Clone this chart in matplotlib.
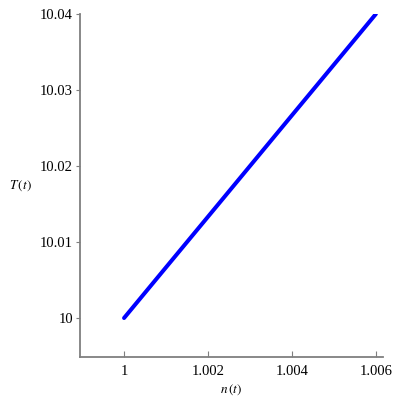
import numpy as np
import matplotlib.pyplot as plt

# values
n_vals = [1.0, 1.001, 1.002, 1.003, 1.004, 1.005, 1.006]
T_vals = [10.0, 10.00667, 10.01333, 10.02, 10.02667, 10.03333, 10.04]
x_ticks = [1, 1.002, 1.004, 1.006]
x_labels = ['1', '1.002', '1.004', '1.006']
y_ticks = [10, 10.01, 10.02, 10.03, 10.04]
y_labels = ['10', '10.01', '10.02', '10.03', '10.04']

plt.rcParams['font.family'] = ['Liberation Serif', 'DejaVu Serif']
plt.rcParams['mathtext.fontset'] = 'stix'

fig = plt.figure(figsize=(4, 4), dpi=100)
ax = fig.add_axes([0.2, 0.1075, 0.7575, 0.8575])

ax.plot(n_vals, T_vals, color='#0000ff', linewidth=2.9, solid_capstyle='round')

ax.set_xlim(0.99895, 1.00617)
ax.set_ylim(9.99487, 10.04)
ax.set_xticks(x_ticks)
ax.set_xticklabels(x_labels)
ax.set_yticks(y_ticks)
ax.set_yticklabels(y_labels)

for s in ['top', 'right']:
    ax.spines[s].set_visible(False)
for s in ['left', 'bottom']:
    ax.spines[s].set_color('#7f7f7f')
    ax.spines[s].set_linewidth(1.3)

ax.tick_params(axis='x', direction='in', length=4, color='#7f7f7f', labelsize=10.5, pad=6)
ax.tick_params(axis='y', direction='out', length=3, color='#7f7f7f', labelsize=10.5, pad=2)

ax.set_xlabel('$n\\,(t)$', fontsize=9.5, labelpad=3)
ax.set_ylabel('$T\\,(t)$', fontsize=9.5, rotation=0, va='center')
ax.yaxis.set_label_coords(-0.195, 0.5)

fig.savefig('out.png', dpi=100)
